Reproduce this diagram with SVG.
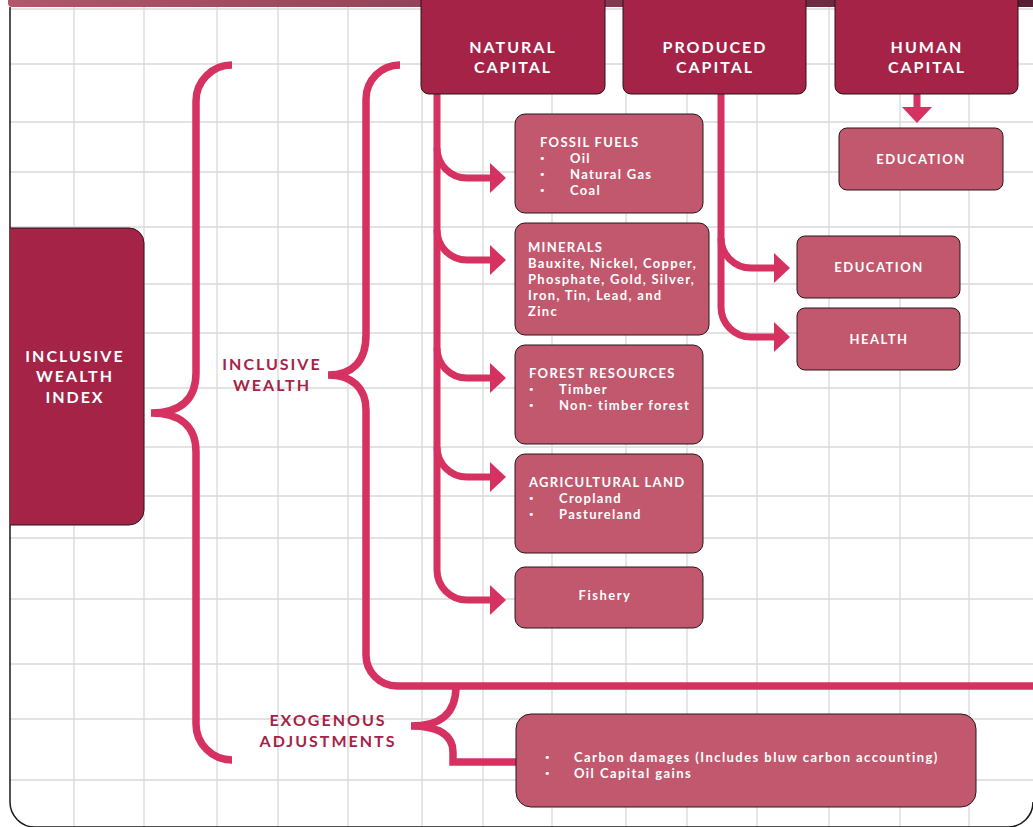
<svg xmlns="http://www.w3.org/2000/svg" width="1033" height="827" viewBox="0 0 1033 827">
<defs>
<linearGradient id="bar" x1="0" y1="0" x2="1" y2="0">
<stop offset="0" stop-color="#b3566b"/>
<stop offset="0.5" stop-color="#8a3f55"/>
<stop offset="1" stop-color="#561c31"/>
</linearGradient>
<marker id="ah" viewBox="0 0 16 30" refX="0" refY="15" markerWidth="16" markerHeight="30" markerUnits="userSpaceOnUse" orient="auto">
<path d="M0 0 L16 15 L0 30 Z" fill="#d53262"/>
</marker>
<clipPath id="frameclip"><path d="M10 7 L10 802 A25 25 0 0 0 35 827 L1008 827 A25 25 0 0 0 1033 802 L1033 7 Z"/></clipPath>
</defs>
<style>
.grid line{stroke:#d9d9d9;stroke-width:1.3}
.head{fill:#a52347;stroke:#2a1418;stroke-width:1}
.sub{fill:#c2586d;stroke:#2a1418;stroke-width:1}
.conn{fill:none;stroke:#d53262;stroke-width:7}
.br{fill:none;stroke:#d53262;stroke-width:7.5}
.ht{font-family:Lato,"Open Sans",sans-serif;font-weight:700;font-size:16px;letter-spacing:2px;fill:#ffffff;text-anchor:middle}
.lbl{font-family:Lato,"Open Sans",sans-serif;font-weight:700;font-size:16px;letter-spacing:2px;fill:#a52347;text-anchor:middle}
.st{font-family:Lato,"Open Sans",sans-serif;font-weight:700;font-size:13px;letter-spacing:1.3px;fill:#ffffff}
.st.wide{letter-spacing:1.45px}
.bu{font-family:"DejaVu Sans",sans-serif;font-size:11px;fill:#ffffff}
.stc{font-family:Lato,"Open Sans",sans-serif;font-weight:700;font-size:13px;letter-spacing:1.5px;fill:#ffffff;text-anchor:middle}
</style>
<rect x="0" y="0" width="1033" height="827" fill="#ffffff"/>
<g class="grid" clip-path="url(#frameclip)">
<line x1="74" y1="7" x2="74" y2="827"/><line x1="144" y1="7" x2="144" y2="827"/><line x1="217" y1="7" x2="217" y2="827"/><line x1="278" y1="7" x2="278" y2="827"/><line x1="348" y1="7" x2="348" y2="827"/><line x1="422" y1="7" x2="422" y2="827"/><line x1="483" y1="7" x2="483" y2="827"/><line x1="552" y1="7" x2="552" y2="827"/><line x1="626" y1="7" x2="626" y2="827"/><line x1="687" y1="7" x2="687" y2="827"/><line x1="757" y1="7" x2="757" y2="827"/><line x1="829" y1="7" x2="829" y2="827"/><line x1="900" y1="7" x2="900" y2="827"/><line x1="969" y1="7" x2="969" y2="827"/>
<line x1="10" y1="9" x2="1033" y2="9"/><line x1="10" y1="64" x2="1033" y2="64"/><line x1="10" y1="122" x2="1033" y2="122"/><line x1="10" y1="172" x2="1033" y2="172"/><line x1="10" y1="227" x2="1033" y2="227"/><line x1="10" y1="284" x2="1033" y2="284"/><line x1="10" y1="333" x2="1033" y2="333"/><line x1="10" y1="388" x2="1033" y2="388"/><line x1="10" y1="447" x2="1033" y2="447"/><line x1="10" y1="496" x2="1033" y2="496"/><line x1="10" y1="538" x2="1033" y2="538"/><line x1="10" y1="599" x2="1033" y2="599"/><line x1="10" y1="664" x2="1033" y2="664"/><line x1="10" y1="719" x2="1033" y2="719"/><line x1="10" y1="780" x2="1033" y2="780"/>
</g>
<path d="M10 7 L10 802 A25 25 0 0 0 35 827 L1008 827 A25 25 0 0 0 1033 802" fill="none" stroke="#1a1a1a" stroke-width="1.5"/>
<rect x="8" y="-6" width="1040" height="13" rx="4" fill="url(#bar)"/>

<g id="connectors">
<path class="br" d="M232 65 A36 36 0 0 0 196 101 L196 373 C196 400 180 413 151 413 C180 413 196 426 196 452 L196 724 A36 36 0 0 0 232 760"/>
<path class="br" d="M400 65 A34 34 0 0 0 366 99 L366 335 C366 362 352 375 328 375 C352 375 366 388 366 410 L366 655 A31 31 0 0 0 397 686 L1040 686"/>
<path class="br" d="M456 686 C456 714 440 726 411 726 C440 726 453 736 453 752 L453 762 L516 762"/>
<path class="conn" d="M437 94 L437 570 A30 30 0 0 0 467 600 L490 600" marker-end="url(#ah)"/>
<path class="conn" d="M437 148 A30 30 0 0 0 467 178 L490 178" marker-end="url(#ah)"/>
<path class="conn" d="M437 230 A30 30 0 0 0 467 260 L490 260" marker-end="url(#ah)"/>
<path class="conn" d="M437 348 A30 30 0 0 0 467 378 L490 378" marker-end="url(#ah)"/>
<path class="conn" d="M437 447 A30 30 0 0 0 467 477 L490 477" marker-end="url(#ah)"/>
<path class="conn" d="M721 94 L721 238 A30 30 0 0 0 751 268 L774 268" marker-end="url(#ah)"/>
<path class="conn" d="M721 238 L721 307 A30 30 0 0 0 751 337 L774 337" marker-end="url(#ah)"/>
<path class="conn" d="M917 94 L917 107" marker-end="url(#ah)"/>
</g>

<g id="node-index">
<path class="head" d="M10 228 L129 228 A15 15 0 0 1 144 243 L144 510 A15 15 0 0 1 129 525 L10 525"/>
<text class="ht" x="75" y="362">INCLUSIVE</text>
<text class="ht" x="75" y="382">WEALTH</text>
<text class="ht" x="75" y="403">INDEX</text>
</g>
<g id="label-inclusive-wealth">
<text class="lbl" x="272" y="370">INCLUSIVE</text>
<text class="lbl" x="272" y="391">WEALTH</text>
</g>
<g id="label-exogenous">
<text class="lbl" x="328" y="726">EXOGENOUS</text>
<text class="lbl" x="328" y="747">ADJUSTMENTS</text>
</g>

<g id="node-natural">
<rect class="head" x="421" y="-12" width="184" height="106" rx="8"/>
<text class="ht" x="513" y="53">NATURAL</text>
<text class="ht" x="513" y="73">CAPITAL</text>
</g>
<g id="node-produced">
<rect class="head" x="623" y="-12" width="183" height="106" rx="8"/>
<text class="ht" x="715" y="53">PRODUCED</text>
<text class="ht" x="715" y="73">CAPITAL</text>
</g>
<g id="node-human">
<rect class="head" x="835" y="-12" width="183" height="106" rx="8"/>
<text class="ht" x="927" y="53">HUMAN</text>
<text class="ht" x="927" y="73">CAPITAL</text>
</g>

<g id="node-fossil">
<rect class="sub" x="515" y="114" width="188" height="99" rx="10"/>
<text class="st" x="540" y="147">FOSSIL FUELS</text>
<text class="bu" x="539" y="162">•</text><text class="st" x="570" y="163">Oil</text>
<text class="bu" x="539" y="178">•</text><text class="st" x="570" y="179">Natural Gas</text>
<text class="bu" x="539" y="194">•</text><text class="st" x="570" y="195">Coal</text>
</g>
<g id="node-minerals">
<rect class="sub" x="515" y="223" width="194" height="112" rx="10"/>
<text class="st" x="528" y="252">MINERALS</text>
<text class="st" x="528" y="268">Bauxite, Nickel, Copper,</text>
<text class="st" x="528" y="284">Phosphate, Gold, Silver,</text>
<text class="st" x="528" y="300">Iron, Tin, Lead, and</text>
<text class="st" x="528" y="316">Zinc</text>
</g>
<g id="node-forest">
<rect class="sub" x="515" y="345" width="188" height="99" rx="10"/>
<text class="st" x="529" y="378">FOREST RESOURCES</text>
<text class="bu" x="528" y="393">•</text><text class="st" x="559" y="394">Timber</text>
<text class="bu" x="528" y="409">•</text><text class="st" x="559" y="410">Non- timber forest</text>
</g>
<g id="node-agri">
<rect class="sub" x="515" y="454" width="188" height="99" rx="10"/>
<text class="st" x="529" y="487">AGRICULTURAL LAND</text>
<text class="bu" x="528" y="502">•</text><text class="st" x="559" y="503">Cropland</text>
<text class="bu" x="528" y="518">•</text><text class="st" x="559" y="519">Pastureland</text>
</g>
<g id="node-fishery">
<rect class="sub" x="515" y="567" width="188" height="61" rx="10"/>
<text class="stc" x="605" y="600">Fishery</text>
</g>
<g id="node-education-produced">
<rect class="sub" x="797" y="236" width="163" height="62" rx="8"/>
<text class="stc" x="879" y="272">EDUCATION</text>
</g>
<g id="node-health">
<rect class="sub" x="797" y="308" width="163" height="62" rx="8"/>
<text class="stc" x="879" y="344">HEALTH</text>
</g>
<g id="node-education-human">
<rect class="sub" x="839" y="128" width="164" height="62" rx="8"/>
<text class="stc" x="921" y="164">EDUCATION</text>
</g>
<g id="node-exogenous">
<rect class="sub" x="516" y="714" width="460" height="93" rx="15"/>
<text class="bu" x="544" y="761">•</text><text class="st wide" x="574" y="762">Carbon damages (Includes bluw carbon accounting)</text>
<text class="bu" x="544" y="777">•</text><text class="st wide" x="574" y="778">Oil Capital gains</text>
</g>
</svg>
